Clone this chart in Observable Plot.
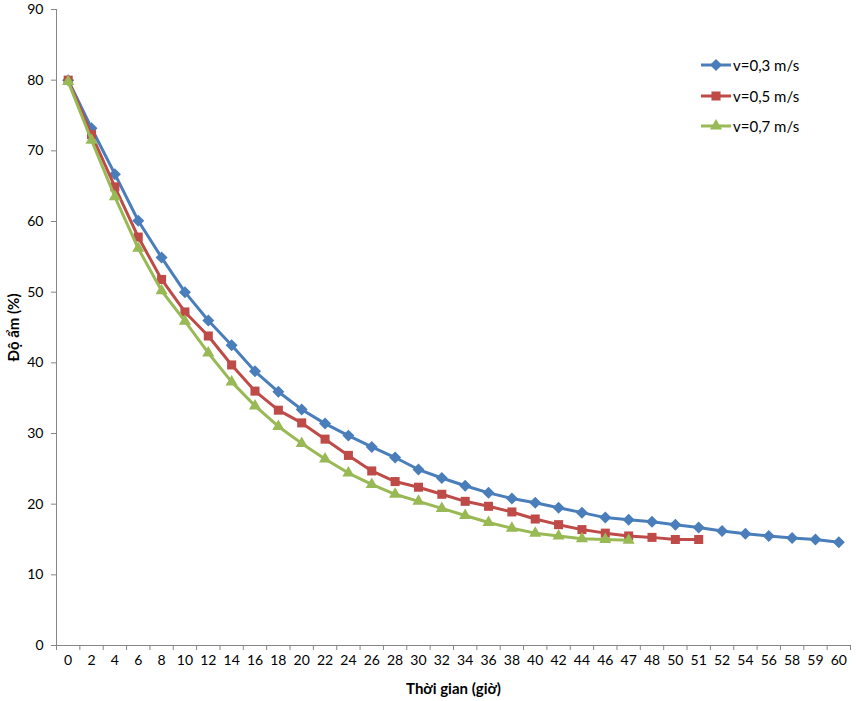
<!DOCTYPE html>
<html>
<head>
<meta charset="utf-8">
<script src="https://cdn.jsdelivr.net/npm/d3@7"></script>
<script src="https://cdn.jsdelivr.net/npm/@observablehq/plot@0.6"></script>
<style>
  html, body { margin: 0; padding: 0; background: #fff; }
  #wrap { position: relative; width: 858px; height: 701px; font-family: Lato, "Open Sans", sans-serif; }
  #legend { position: absolute; left: 699px; top: 50px; }
  .row { display: flex; align-items: center; height: 30.5px; font-size: 15px; color: #000; }
  .row svg { display: block; margin-right: 0px; }
</style>
</head>
<body>
<div id="wrap"><div id="legend"></div></div>
<script>
const categories = ["0","2","4","6","8","10","12","14","16","18","20","22","24","26","28","30","32","34","36","38","40","42","44","46","47","48","50","51","52","54","56","58","59","60"];
const seriesNames = ["v=0,3 m/s", "v=0,5 m/s", "v=0,7 m/s"];
const v03 = [80.0,73.2,66.7,60.1,54.9,50.0,46.0,42.5,38.8,35.9,33.4,31.4,29.7,28.1,26.6,24.9,23.7,22.6,21.6,20.8,20.2,19.5,18.8,18.1,17.8,17.5,17.1,16.7,16.2,15.8,15.5,15.2,15.0,14.6];
const v05 = [80.0,72.3,64.9,57.8,51.8,47.2,43.8,39.7,36.0,33.3,31.5,29.2,26.9,24.7,23.2,22.4,21.4,20.4,19.7,18.9,17.9,17.1,16.4,15.9,15.5,15.3,15.0,15.0];
const v07 = [79.8,71.5,63.5,56.2,50.2,45.9,41.4,37.3,33.9,31.0,28.6,26.4,24.4,22.8,21.4,20.4,19.4,18.4,17.4,16.6,15.9,15.5,15.1,15.0,14.9];
const yTicks = [0,10,20,30,40,50,60,70,80,90];
const xTitle = "Thời gian (giờ)";
const yTitle = "Độ ẩm (%)";

const colors = ["#4A7EBB", "#BE4B48", "#98B954"];
const symbols = ["diamond2", "square", "triangle"];
const radii = [5.4, 5.1, 4.5];
const d3symbols = [d3.symbolDiamond2, d3.symbolSquare, d3.symbolTriangle];

const allSeries = [v03, v05, v07];
const idx = categories.map((_, i) => i);
const boundaries = [...idx.map(i => i - 0.5), categories.length - 0.5];

const seriesMarks = allSeries.flatMap((vals, s) => {
  const data = vals.map((v, i) => ({i, v}));
  return [
    Plot.line(data, {x: "i", y: "v", stroke: colors[s], strokeWidth: 3, strokeLinejoin: "round", strokeLinecap: "round"}),
    Plot.dot(data, {x: "i", y: "v", symbol: symbols[s], r: radii[s], fill: colors[s], stroke: "none"})
  ];
});

const chart = Plot.plot({
  width: 858,
  height: 701,
  marginLeft: 56,
  marginRight: 8,
  marginTop: 9,
  marginBottom: 56,
  x: {type: "linear", domain: [-0.5, categories.length - 0.5]},
  y: {domain: [0, 90]},
  style: {fontFamily: "Lato, 'Open Sans', sans-serif", fontSize: "14px", color: "#000", background: "#fff"},
  marks: [
    Plot.axisY({ticks: yTicks, tickSize: 5, tickPadding: 8, stroke: "#868686", fill: "#000", label: null, fontSize: 14}),
    Plot.axisX({ticks: boundaries, tickSize: 5, tickFormat: () => "", stroke: "#868686", label: null}),
    Plot.axisX({ticks: idx, tickSize: 0, tickPadding: 10, tickFormat: i => categories[i], fill: "#000", label: null, fontSize: 14}),
    Plot.ruleY([0], {stroke: "#868686"}),
    Plot.ruleX([-0.5], {stroke: "#868686"}),
    ...seriesMarks,
    Plot.text([xTitle], {frameAnchor: "bottom", dy: 44, textAnchor: "middle", lineAnchor: "middle", fontWeight: "bold", fontSize: 15, fill: "#000"}),
    Plot.text([yTitle], {frameAnchor: "left", dx: -42, rotate: -90, textAnchor: "middle", lineAnchor: "middle", fontWeight: "bold", fontSize: 15, fill: "#000"})
  ]
});
document.getElementById("wrap").prepend(chart);

const legend = d3.select("#legend");
seriesNames.forEach((name, s) => {
  const row = legend.append("div").attr("class", "row");
  const svg = row.append("svg").attr("width", 34).attr("height", 16);
  svg.append("line").attr("x1", 2).attr("x2", 32).attr("y1", 8).attr("y2", 8)
    .attr("stroke", colors[s]).attr("stroke-width", 3);
  svg.append("path").attr("transform", "translate(17,8)")
    .attr("d", d3.symbol(d3symbols[s], Math.PI * radii[s] * radii[s])())
    .attr("fill", colors[s]);
  row.append("span").text(name);
});
</script>
</body>
</html>
